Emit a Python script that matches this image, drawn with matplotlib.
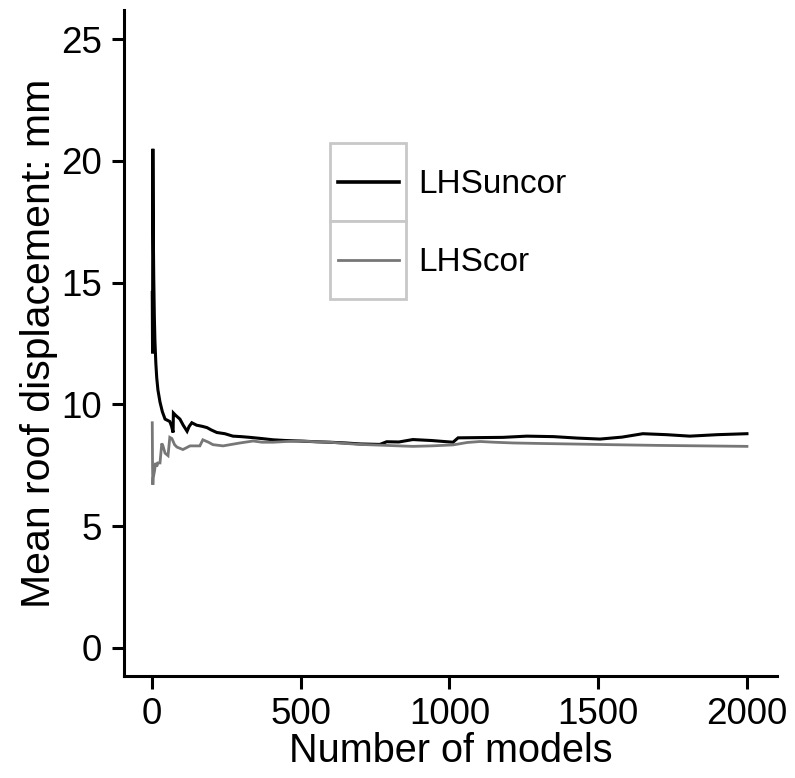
import matplotlib
matplotlib.use("Agg")
import matplotlib.pyplot as plt
from matplotlib.patches import Rectangle

plt.rcParams["font.family"] = ["Liberation Sans", "DejaVu Sans"]

seriesNames = ["LHSuncor", "LHScor"]
seriesColors = ["#000000", "#777777"]

uncorX = [1, 2, 3, 4, 5, 6, 8, 10, 13, 16, 20, 27, 35, 44, 52, 60, 66, 71, 72, 80,
          94, 105, 118, 125, 134, 150, 170, 185, 200, 218, 245, 272, 300, 329, 370,
          407, 450, 497, 550, 598, 650, 700, 766, 789, 830, 877, 940, 1012, 1029,
          1100, 1180, 1260, 1350, 1430, 1506, 1580, 1650, 1730, 1808, 1900, 2000]
uncorY = [14.6, 12.1, 20.5, 18.0, 16.4, 15.2, 13.6, 12.6, 11.7, 11.1, 10.6, 10.1,
          9.7, 9.4, 9.35, 9.3, 9.1, 8.85, 9.65, 9.55, 9.4, 9.15, 8.9, 9.1, 9.25,
          9.15, 9.1, 9.05, 8.95, 8.85, 8.8, 8.7, 8.68, 8.65, 8.6, 8.55, 8.52, 8.5,
          8.47, 8.45, 8.42, 8.38, 8.36, 8.47, 8.46, 8.56, 8.52, 8.45, 8.63, 8.64,
          8.65, 8.7, 8.68, 8.62, 8.58, 8.66, 8.8, 8.76, 8.7, 8.76, 8.8]

corX = [1, 2, 3, 4, 6, 9, 12, 16, 20, 27, 33, 37, 44, 54, 60, 67, 76, 84, 104,
        128, 161, 171, 190, 205, 239, 296, 340, 370, 407, 450, 497, 550, 598, 650,
        700, 766, 830, 877, 940, 1012, 1060, 1103, 1150, 1214, 1300, 1400, 1540,
        1700, 1850, 2000]
corY = [9.25, 7.4, 6.7, 7.0, 7.1, 7.3, 7.6, 7.45, 7.6, 7.6, 8.4, 8.3, 8.0, 7.9,
        8.65, 8.6, 8.35, 8.25, 8.15, 8.3, 8.3, 8.55, 8.45, 8.35, 8.3, 8.42, 8.5,
        8.45, 8.45, 8.48, 8.5, 8.47, 8.45, 8.4, 8.36, 8.33, 8.3, 8.28, 8.3, 8.34,
        8.44, 8.48, 8.45, 8.42, 8.4, 8.38, 8.35, 8.32, 8.3, 8.28]

xTicks = [0, 500, 1000, 1500, 2000]
yTicks = [0, 5, 10, 15, 20, 25]

fig = plt.figure(figsize=(7.95, 7.78), dpi=100)
ax = fig.add_axes([124 / 795, 1 - 676 / 778, 653 / 795, 666 / 778])

ax.plot(uncorX, uncorY, color=seriesColors[0], lw=2.2, solid_joinstyle="miter")
ax.plot(corX, corY, color=seriesColors[1], lw=2.0, solid_joinstyle="miter")

ax.set_xlim(-94, 2101)
ax.set_ylim(-1.15, 26.2)
ax.set_xticks(xTicks)
ax.set_yticks(yTicks)
for side in ["top", "right"]:
    ax.spines[side].set_visible(False)
for side in ["left", "bottom"]:
    ax.spines[side].set_linewidth(2.2)
ax.tick_params(width=2.2, length=9, labelsize=26.5, colors="black")
ax.tick_params(axis="y", pad=7)
ax.tick_params(axis="x", pad=6)
ax.set_xlabel("Number of models", fontsize=28.5, labelpad=0)
ax.set_ylabel("Mean roof displacement: mm", fontsize=29.5, labelpad=2)

# ggplot-style legend keys with grey borders
keyTops = [0.800, 0.683]
keyH = 0.117
for i, name in enumerate(seriesNames):
    y0 = keyTops[i] - keyH
    ax.add_patch(Rectangle((0.315, y0), 0.117, keyH, transform=ax.transAxes,
                           facecolor="white", edgecolor="#c8c8c8", lw=2.0, clip_on=False))
    yc = y0 + keyH / 2
    ax.plot([0.328, 0.421], [yc, yc], transform=ax.transAxes, color=seriesColors[i],
            lw=2.6 if i == 0 else 2.0)
    ax.text(0.450, yc - 0.0165, name, transform=ax.transAxes, fontsize=24,
            va="baseline", ha="left")

fig.savefig("out.png", dpi=100)
